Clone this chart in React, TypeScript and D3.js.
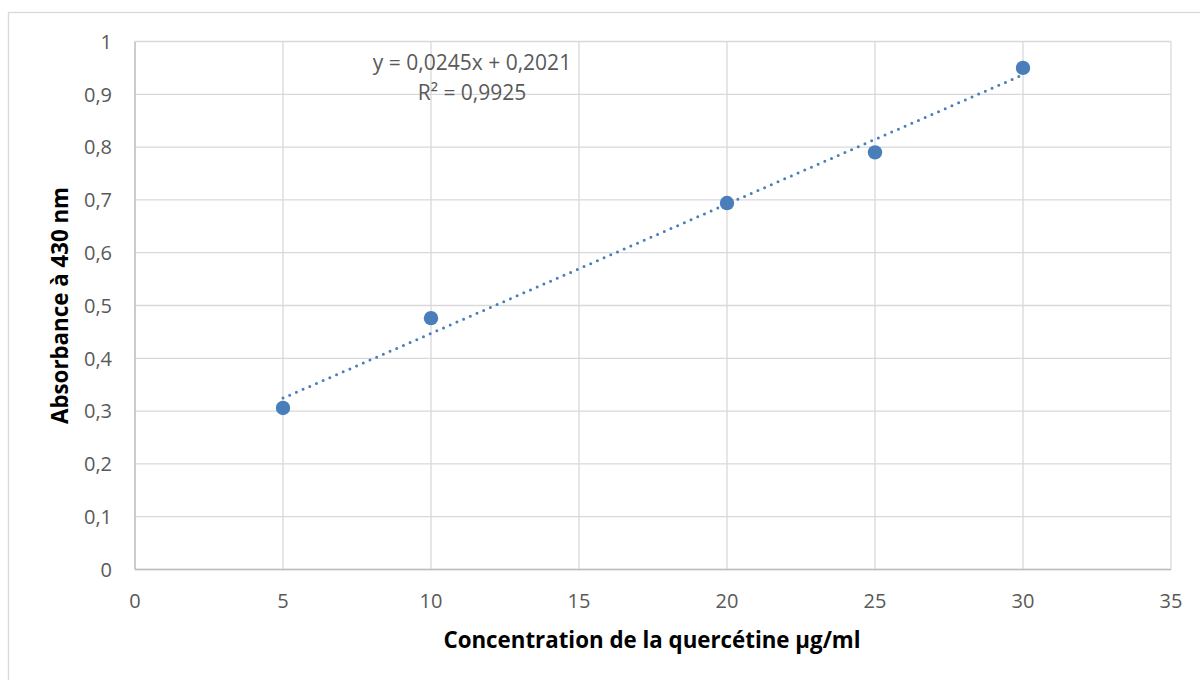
import React from "react";
import * as d3 from "d3";

const concentrations = [5, 10, 20, 25, 30];
const absorbances = [0.306, 0.476, 0.694, 0.79, 0.95];
const xTicks = [0, 5, 10, 15, 20, 25, 30, 35];
const yTicks = [0, 0.1, 0.2, 0.3, 0.4, 0.5, 0.6, 0.7, 0.8, 0.9, 1];
const slope = 0.0245;
const intercept = 0.2021;
const equationLines = ["y = 0,0245x + 0,2021", "R² = 0,9925"];
const xTitle = "Concentration de la quercétine µg/ml";
const yTitle = "Absorbance à 430 nm";

const W = 1200;
const H = 680;
const left = 135;
const right = 1171;
const top = 41.5;
const bottom = 569.5;
const FONT = "'Open Sans', 'Liberation Sans', sans-serif";
const BLUE = "#4A7EBB";

export default function App() {
  const x = d3.scaleLinear().domain([0, 35]).range([left, right]);
  const y = d3.scaleLinear().domain([0, 1]).range([bottom, top]);
  const fmt = (v: number) => (Math.round(v * 10) / 10).toString().replace(".", ",");
  const xMin = d3.min(concentrations)!;
  const xMax = d3.max(concentrations)!;
  const trend = d3.line<number>()
    .x((d) => x(d))
    .y((d) => y(slope * d + intercept));

  return (
    <svg width={W} height={H} style={{ position: "absolute", left: 0, top: 0 }}>
      <rect x={0} y={0} width={W} height={H} fill="#fff" />
      <rect x={8.5} y={12.5} width={W + 20} height={H + 20} fill="#fff" stroke="#d9d9d9" strokeWidth={1.3} />
      {yTicks.map((t) => (
        <line key={"gy" + t} x1={left} x2={right} y1={y(t)} y2={y(t)} stroke="#d9d9d9" strokeWidth={1.3} />
      ))}
      {xTicks.map((t) => (
        <line key={"gx" + t} x1={x(t)} x2={x(t)} y1={top} y2={bottom} stroke="#d9d9d9" strokeWidth={1.3} />
      ))}
      <line x1={left} x2={left} y1={top} y2={bottom} stroke="#bfbfbf" strokeWidth={1.3} />
      <line x1={left} x2={right} y1={bottom} y2={bottom} stroke="#bfbfbf" strokeWidth={1.3} />
      {yTicks.map((t) => (
        <text key={"ty" + t} x={112} y={y(t)} dy="0.36em" textAnchor="end" fontFamily={FONT} fontSize={20} fill="#595959">
          {fmt(t)}
        </text>
      ))}
      {xTicks.map((t) => (
        <text key={"tx" + t} x={x(t)} y={608} textAnchor="middle" fontFamily={FONT} fontSize={20} fill="#595959">
          {t}
        </text>
      ))}
      <path
        d={trend([xMin, xMax]) || ""}
        fill="none"
        stroke={BLUE}
        strokeWidth={3}
        strokeLinecap="round"
        strokeDasharray="0 7.3"
      />
      {concentrations.map((c, i) => (
        <circle key={"p" + i} cx={x(c)} cy={y(absorbances[i])} r={7.2} fill={BLUE} />
      ))}
      {equationLines.map((l, i) => (
        <text key={"eq" + i} x={472} y={70 + i * 30} textAnchor="middle" fontFamily={FONT} fontSize={21} fill="#595959">
          {l}
        </text>
      ))}
      <text x={(left + right) / 2 - 1} y={648} textAnchor="middle" fontFamily={FONT} fontSize={22.3} fontWeight="bold" fill="#000">
        {xTitle}
      </text>
      <text
        transform={`translate(68, ${(top + bottom) / 2}) rotate(-90)`}
        textAnchor="middle"
        fontFamily={FONT}
        fontSize={22.3}
        fontWeight="bold"
        fill="#000"
      >
        {yTitle}
      </text>
    </svg>
  );
}
